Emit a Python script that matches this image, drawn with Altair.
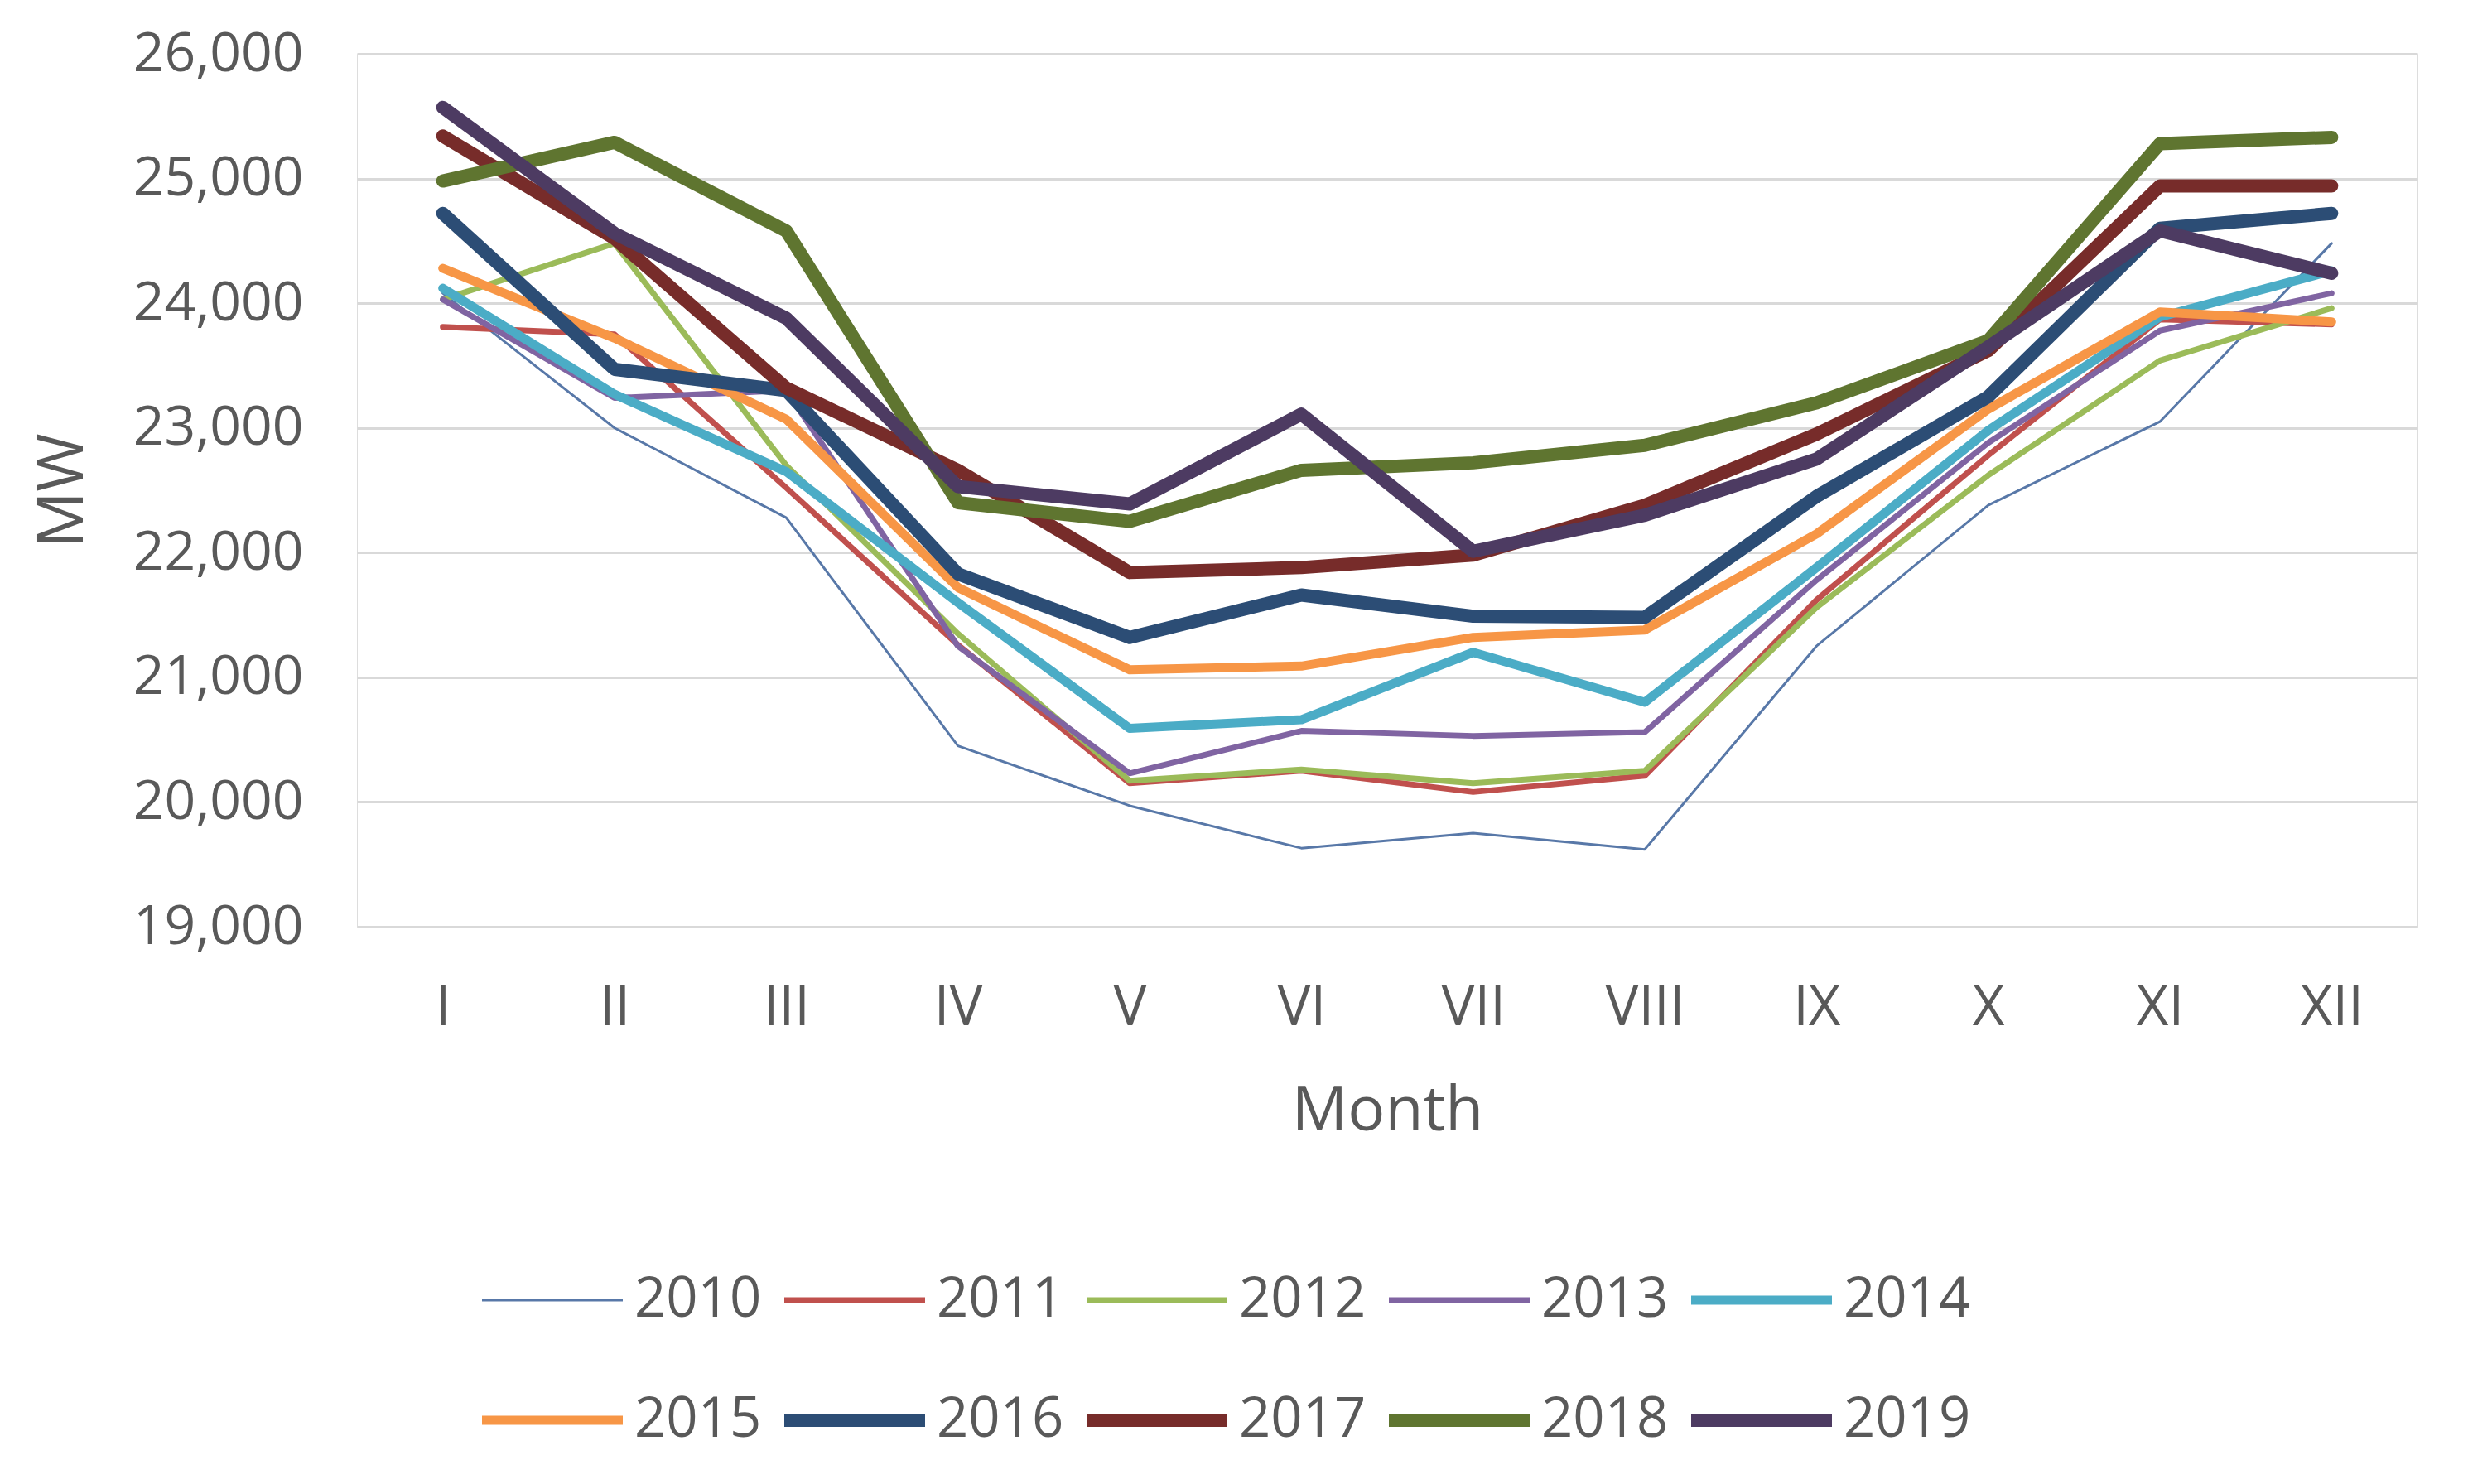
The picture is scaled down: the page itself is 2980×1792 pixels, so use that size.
import altair as alt
import pandas as pd

months = ["I", "II", "III", "IV", "V", "VI", "VII", "VIII", "IX", "X", "XI", "XII"]
years = ["2010", "2011", "2012", "2013", "2014", "2015", "2016", "2017", "2018", "2019"]

y2010 = [24080, 23000, 22280, 20450, 19970, 19630, 19750, 19620, 21250, 22380, 23050, 24480]
y2011 = [23810, 23750, 22520, 21260, 20150, 20250, 20080, 20210, 21620, 22780, 23870, 23830]
y2012 = [24030, 24480, 22700, 21350, 20170, 20260, 20150, 20250, 21560, 22620, 23540, 23960]
y2013 = [24030, 23240, 23300, 21250, 20230, 20570, 20530, 20560, 21780, 22880, 23780, 24080]
y2014 = [24120, 23270, 22650, 21600, 20590, 20660, 21200, 20800, 21880, 22980, 23890, 24260]
y2015 = [24280, 23720, 23070, 21720, 21060, 21090, 21320, 21380, 22150, 23150, 23930, 23850]
y2016 = [24720, 23470, 23300, 21830, 21320, 21660, 21490, 21480, 22450, 23250, 24600, 24720]
y2017 = [25340, 24520, 23320, 22660, 21840, 21880, 21980, 22380, 22950, 23620, 24940, 24940]
y2018 = [24980, 25290, 24580, 22400, 22250, 22660, 22720, 22860, 23200, 23700, 25280, 25330]
y2019 = [25570, 24560, 23880, 22530, 22390, 23110, 22010, 22300, 22750, 23650, 24580, 24240]

series = [y2010, y2011, y2012, y2013, y2014, y2015, y2016, y2017, y2018, y2019]

colors = ["#5878A8", "#C0504D", "#9BBB59", "#8064A2", "#4BACC6",
          "#F79646", "#2C4D75", "#772C2A", "#5F7530", "#4D3B62"]
widths = [3, 7, 7, 7, 11, 11, 16, 16, 16, 16]

rows = []
for yr, vals in zip(years, series):
    for m, v in zip(months, vals):
        rows.append({"Month": m, "Year": yr, "MW": v})
df = pd.DataFrame(rows)

FONT = "Open Sans"
TXT = "#595959"

legend_kw = dict(title=None, orient="none", legendX=143, legendY=1469,
                 direction="horizontal", columns=5, symbolType="stroke",
                 symbolSize=28900, clipHeight=72, rowPadding=73,
                 columnPadding=19, labelOffset=6, labelFontSize=67,
                 labelFont=FONT, labelColor=TXT, padding=0, labelLimit=400,
                 symbolOpacity=1)

chart = alt.Chart(df).mark_line(strokeJoin="round", strokeCap="round").encode(
    x=alt.X("Month:N", sort=months,
            scale=alt.Scale(type="point", padding=0.5),
            axis=alt.Axis(title="Month", labelAngle=0, labelFontSize=67, labelFont=FONT,
                          labelColor=TXT, labelPadding=65, ticks=False, domain=False, grid=False,
                          titleFontSize=75, titleFont=FONT, titleColor=TXT, titleFontWeight="normal",
                          titleY=245, titleBaseline="alphabetic")),
    y=alt.Y("MW:Q",
            scale=alt.Scale(domain=[19000, 26000], nice=False, zero=False),
            axis=alt.Axis(title="MW", values=[19000, 20000, 21000, 22000, 23000, 24000, 25000, 26000],
                          format=",.0f", labelFontSize=66, labelFont=FONT, labelColor=TXT,
                          labelPadding=65, labelLimit=400, ticks=False, domain=False,
                          gridColor="#D9D9D9", gridWidth=3,
                          titleFontSize=76, titleFont=FONT, titleColor=TXT, titleFontWeight="normal",
                          titleAngle=270, titleX=-355, titleY=527, titleAlign="center",
                          titleBaseline="middle")),
    color=alt.Color("Year:O", scale=alt.Scale(type="ordinal", domain=years, range=colors),
                    legend=alt.Legend(**legend_kw)),
    strokeWidth=alt.StrokeWidth("Year:O",
                                scale=alt.Scale(type="ordinal", domain=years, range=widths),
                                legend=alt.Legend(**legend_kw)),
    order=alt.Order("Year:O"),
).properties(
    width=2488, height=1054,
    autosize=alt.AutoSizeParams(type="none"),
    padding={"left": 423, "top": 57, "right": 53, "bottom": 665},
).configure_view(stroke=None).configure(background="white")

chart.save("out.html", embed_options={"renderer": "svg", "actions": False})
